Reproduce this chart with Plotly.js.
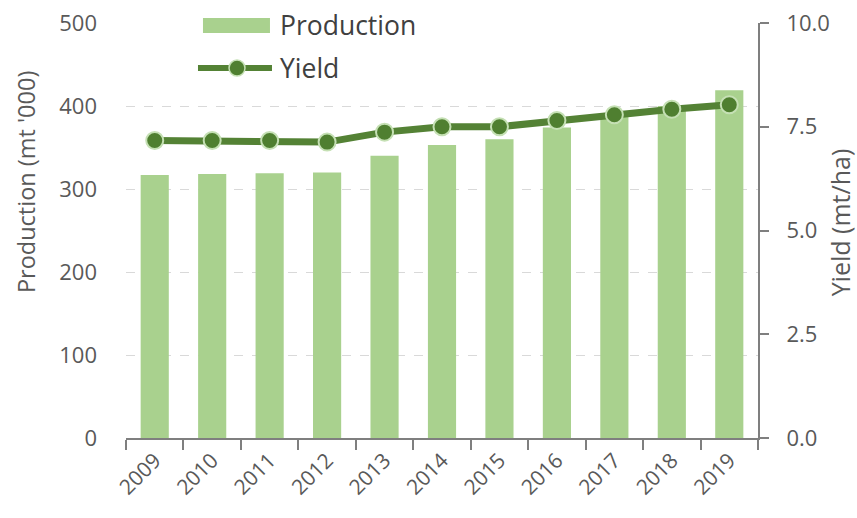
<!DOCTYPE html>
<html>
<head>
<meta charset="utf-8">
<script src="https://cdn.plot.ly/plotly-3.0.1.min.js"></script>
<style>html,body{margin:0;padding:0;background:#fff;}#chart{width:857px;height:518px;}</style>
</head>
<body>
<div id="chart"></div>
<script>
const years = ['2009','2010','2011','2012','2013','2014','2015','2016','2017','2018','2019'];
const production = [317, 318, 319, 320, 340, 353, 360, 374, 389, 400, 419];
const yieldVals = [7.17, 7.17, 7.17, 7.13, 7.37, 7.5, 7.5, 7.65, 7.79, 7.92, 8.03];
const leftTicks = [0, 100, 200, 300, 400, 500];
const rightTicks = [0, 2.5, 5, 7.5, 10];
const rightTickText = ['0.0', '2.5', '5.0', '7.5', '10.0'];
const seriesNames = ['Production', 'Yield'];

const FONT = '"Open Sans", "Noto Sans", sans-serif';
const GRAY = '#595959';
const BAR_COLOR = '#a9d18e';
const LINE_COLOR = '#548235';
const MARKER_COLOR = '#4f7f30';
const MARKER_EDGE = '#c5e0b4';

const traces = [
  {
    type: 'bar', name: seriesNames[0], x: years, y: production,
    marker: {color: BAR_COLOR}, yaxis: 'y'
  },
  {
    type: 'scatter', mode: 'lines+markers', name: seriesNames[1], x: years, y: yieldVals,
    yaxis: 'y2',
    line: {color: LINE_COLOR, width: 7},
    marker: {color: MARKER_COLOR, size: 17, line: {color: MARKER_EDGE, width: 2}}
  }
];

// custom legend (Excel-style wide swatches)
const legendShapes = [
  {type: 'rect', xref: 'paper', yref: 'paper', x0: 0.0775, x1: 0.489, y0: 0.8386, y1: 1.03,
   fillcolor: '#ffffff', line: {width: 0}, layer: 'between'},
  {type: 'rect', xref: 'paper', yref: 'paper', x0: 0.1218, x1: 0.2278, y0: 0.9759, y1: 1.012,
   fillcolor: BAR_COLOR, line: {width: 0}},
  {type: 'line', xref: 'paper', yref: 'paper', x0: 0.1139, x1: 0.2310, y0: 0.8916, y1: 0.8916,
   line: {color: LINE_COLOR, width: 6}},
  {type: 'circle', xref: 'paper', yref: 'paper', x0: 0.1630, x1: 0.1883, y0: 0.8723, y1: 0.9108,
   fillcolor: MARKER_COLOR, line: {color: MARKER_EDGE, width: 1.5}}
];

const layout = {
  width: 857, height: 518,
  margin: {l: 126, r: 99, t: 23, b: 80},
  paper_bgcolor: '#ffffff', plot_bgcolor: '#ffffff',
  font: {family: FONT, color: GRAY, size: 20},
  bargap: 0.51,
  showlegend: false,
  xaxis: {
    type: 'category', range: [-0.5, 10.5], tickangle: -45,
    showline: true, linecolor: '#7f7f7f', linewidth: 2,
    ticks: 'outside', ticklen: 10, tickcolor: '#7f7f7f', tickwidth: 2,
    tickson: 'boundaries', showgrid: false,
    tickfont: {family: FONT, size: 21, color: GRAY}
  },
  yaxis: {
    range: [0, 500], tickvals: leftTicks,
    showline: false, ticks: '', zeroline: false,
    showgrid: true, gridcolor: '#d9d9d9', gridwidth: 1, griddash: 'dash',
    ticklabelstandoff: 28,
    tickfont: {family: FONT, size: 22, color: GRAY}
  },
  yaxis2: {
    overlaying: 'y', side: 'right', range: [0, 10],
    tickvals: rightTicks, ticktext: rightTickText,
    showline: true, linecolor: '#7f7f7f', linewidth: 2,
    ticks: 'outside', ticklen: 9, tickcolor: '#7f7f7f', tickwidth: 2,
    showgrid: false, zeroline: false, ticklabelstandoff: 13,
    tickfont: {family: FONT, size: 22, color: GRAY}
  },
  shapes: legendShapes,
  annotations: [
    {text: "Production (mt '000)", xref: 'paper', yref: 'paper',
     x: -0.158, y: 0.617, xanchor: 'center', yanchor: 'middle', textangle: -90,
     showarrow: false, font: {family: FONT, size: 23.5, color: GRAY}},
    {text: 'Yield (mt/ha)', xref: 'paper', yref: 'paper',
     x: 1.13, y: 0.52, xanchor: 'center', yanchor: 'middle', textangle: -90,
     showarrow: false, font: {family: FONT, size: 25, color: GRAY}},
    {text: seriesNames[0], xref: 'paper', yref: 'paper',
     x: 0.2405, y: 0.9952, xanchor: 'left', yanchor: 'middle',
     showarrow: false, font: {family: FONT, size: 26.5, color: '#404040'}},
    {text: seriesNames[1], xref: 'paper', yref: 'paper',
     x: 0.2405, y: 0.8916, xanchor: 'left', yanchor: 'middle',
     showarrow: false, font: {family: FONT, size: 26.5, color: '#404040'}}
  ]
};

Plotly.newPlot('chart', traces, layout, {displayModeBar: false, staticPlot: true});
</script>
</body>
</html>
